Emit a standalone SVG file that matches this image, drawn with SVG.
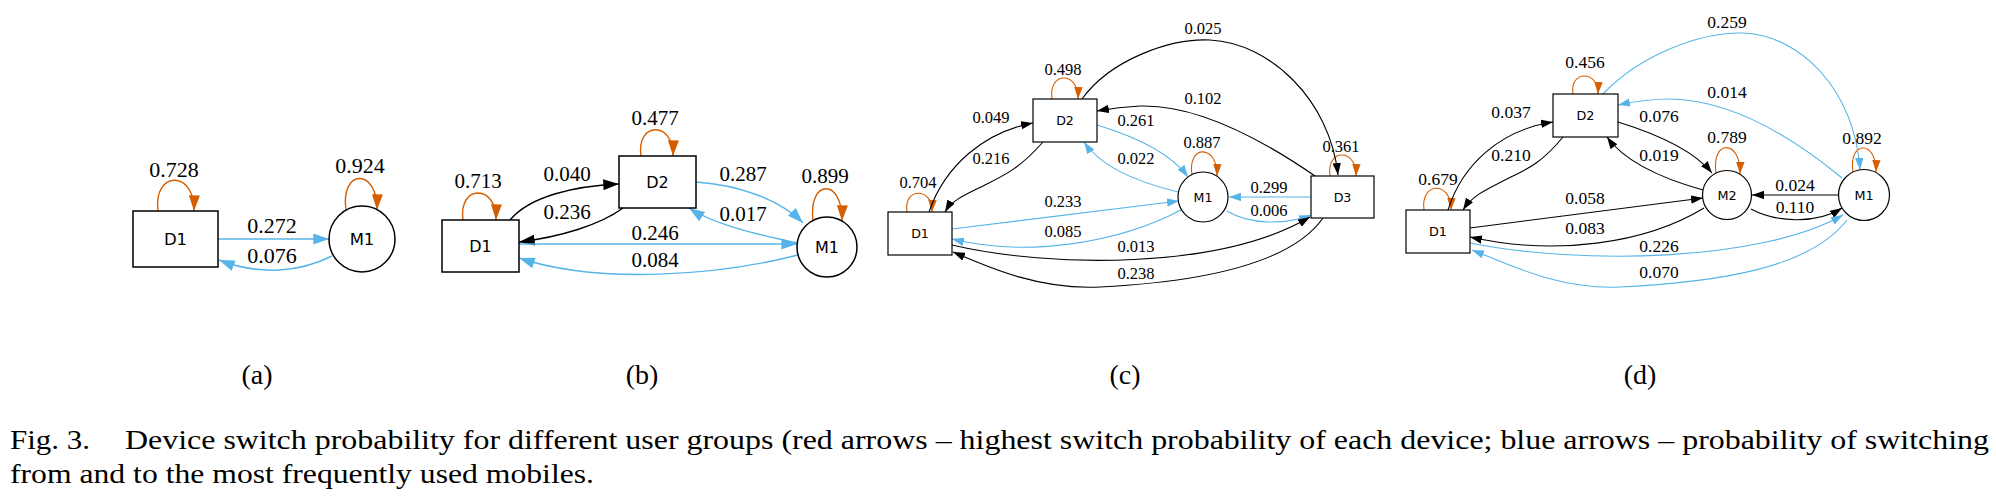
<svg xmlns="http://www.w3.org/2000/svg" width="1996" height="504" viewBox="0 0 1996 504">
<style>
.node{fill:#fff;stroke:#000;stroke-width:1.5}
.nodes{fill:#fff;stroke:#000;stroke-width:1.2}
.nl{font-family:"DejaVu Sans",sans-serif;text-anchor:middle;fill:#000}
.el{font-family:"Liberation Serif",serif;text-anchor:middle;fill:#000}
.e{fill:none;stroke-width:1.4}
.es{fill:none;stroke-width:1.1}
.k{stroke:#000}
.b{stroke:#56B4E9}
.o{stroke:#D55E00}
.cap{font-family:"Liberation Serif",serif;font-size:28px;fill:#000}
</style>
<defs>
<marker id="kL" viewBox="0 0 10 7" refX="10" refY="3.5" markerUnits="userSpaceOnUse" markerWidth="16" markerHeight="11" orient="auto"><path d="M0,0L10,3.5L0,7z" fill="#000"/></marker>
<marker id="bL" viewBox="0 0 10 7" refX="10" refY="3.5" markerUnits="userSpaceOnUse" markerWidth="16" markerHeight="11" orient="auto"><path d="M0,0L10,3.5L0,7z" fill="#56B4E9"/></marker>
<marker id="oL" viewBox="0 0 10 7" refX="10" refY="3.5" markerUnits="userSpaceOnUse" markerWidth="16" markerHeight="11" orient="auto"><path d="M0,0L10,3.5L0,7z" fill="#D55E00"/></marker>
<marker id="kS" viewBox="0 0 10 7" refX="10" refY="3.5" markerUnits="userSpaceOnUse" markerWidth="12" markerHeight="8.4" orient="auto"><path d="M0,0L10,3.5L0,7z" fill="#000"/></marker>
<marker id="bS" viewBox="0 0 10 7" refX="10" refY="3.5" markerUnits="userSpaceOnUse" markerWidth="12" markerHeight="8.4" orient="auto"><path d="M0,0L10,3.5L0,7z" fill="#56B4E9"/></marker>
<marker id="oS" viewBox="0 0 10 7" refX="10" refY="3.5" markerUnits="userSpaceOnUse" markerWidth="12" markerHeight="8.4" orient="auto"><path d="M0,0L10,3.5L0,7z" fill="#D55E00"/></marker>
</defs>
<rect width="1996" height="504" fill="#fff"/>

<!-- Panel (a) -->
<g id="a-edges">
<path class="e o" marker-end="url(#oL)" d="M158,211C153,170 195,170 194,211"/>
<path class="e o" marker-end="url(#oL)" d="M346,210C340,168 378,168 377,210"/>
<path class="e b" marker-end="url(#bL)" d="M218,239L329,239"/>
<path class="e b" marker-end="url(#bL)" d="M332,256C300,272 260,276 219,260"/>
<g class="el" font-size="22">
<text x="174" y="177">0.728</text><text x="360" y="173">0.924</text>
<text x="272" y="233">0.272</text><text x="272" y="263">0.076</text>
</g>
</g>
<g id="a-D1"><rect class="node" x="133" y="211" width="85" height="56"/><text class="nl" font-size="16.5" x="175.5" y="245">D1</text></g>
<g id="a-M1"><circle class="node" cx="362" cy="239" r="33"/><text class="nl" font-size="16.5" x="362" y="245">M1</text></g>

<!-- Panel (b) -->
<g id="b-edges">
<path class="e o" marker-end="url(#oL)" d="M463,220C458,184 497,184 496,220"/>
<path class="e o" marker-end="url(#oL)" d="M641,156C636,121 674,121 673,156"/>
<path class="e o" marker-end="url(#oL)" d="M813,221C808,178 843,178 842,221"/>
<path class="e k" marker-end="url(#kL)" d="M510,220C530,196 575,186 619,184"/>
<path class="e k" marker-end="url(#kL)" d="M623,208C600,225 560,237 519,242"/>
<path class="e b" marker-end="url(#bL)" d="M696,182C740,185 780,200 803,223"/>
<path class="e b" marker-end="url(#bL)" d="M797,243C760,235 715,225 689,208"/>
<path class="e b" marker-end="url(#bL)" d="M519,244L797,244"/>
<path class="e b" marker-end="url(#bL)" d="M798,255C720,275 600,285 519,258"/>
<g class="el" font-size="21">
<text x="478" y="188">0.713</text><text x="655" y="125">0.477</text><text x="825" y="183">0.899</text>
<text x="567" y="181">0.040</text><text x="567" y="219">0.236</text>
<text x="743" y="181">0.287</text><text x="743" y="221">0.017</text>
<text x="655" y="240">0.246</text><text x="655" y="267">0.084</text>
</g>
</g>
<g id="b-D1"><rect class="node" x="442" y="220" width="77" height="52"/><text class="nl" font-size="16" x="480.5" y="252">D1</text></g>
<g id="b-D2"><rect class="node" x="619" y="156" width="77" height="52"/><text class="nl" font-size="16" x="657.5" y="188">D2</text></g>
<g id="b-M1"><circle class="node" cx="827" cy="247" r="30"/><text class="nl" font-size="16" x="827" y="253">M1</text></g>

<!-- Panel (c) -->
<g id="c-edges">
<path class="es o" marker-end="url(#oS)" d="M907,212C903,187 933,187 932,212"/>
<path class="es o" marker-end="url(#oS)" d="M1052,99C1048,71 1079,71 1078,99"/>
<path class="es o" marker-end="url(#oS)" d="M1192,175C1187,144 1218,144 1217,176"/>
<path class="es o" marker-end="url(#oS)" d="M1330,176C1326,148 1357,148 1356,176"/>
<path class="es k" marker-end="url(#kS)" d="M1082,99C1110,60 1170,38 1210,40C1270,43 1330,100 1338,175"/>
<path class="es k" marker-end="url(#kS)" d="M1315,176C1270,145 1200,104 1140,106C1120,107 1108,109 1097,111"/>
<path class="es k" marker-end="url(#kS)" d="M929,212C945,165 985,132 1033,123"/>
<path class="es k" marker-end="url(#kS)" d="M1043,142C1020,168 1005,175 985,185C965,195 952,200 945,212"/>
<path class="es b" marker-end="url(#bS)" d="M1097,125C1140,138 1172,155 1188,177"/>
<path class="es b" marker-end="url(#bS)" d="M1178,192C1130,180 1100,165 1084,142"/>
<path class="es b" marker-end="url(#bS)" d="M952,229L1179,201"/>
<path class="es b" marker-end="url(#bS)" d="M1181,210C1120,242 1030,258 952,239"/>
<path class="es b" marker-end="url(#bS)" d="M1311,197L1229,197"/>
<path class="es b" marker-end="url(#bS)" d="M1227,211C1250,225 1285,225 1311,215"/>
<path class="es k" marker-end="url(#kS)" d="M952,245C1050,268 1220,270 1310,217"/>
<path class="es k" marker-end="url(#kS)" d="M1323,218C1290,265 1200,282 1100,287C1040,290 990,268 953,252"/>
<g class="el" font-size="16.5">
<text x="1203" y="34">0.025</text><text x="1063" y="75">0.498</text><text x="1203" y="104">0.102</text>
<text x="991" y="123">0.049</text><text x="1136" y="126">0.261</text><text x="1202" y="148">0.887</text>
<text x="1341" y="152">0.361</text><text x="991" y="164">0.216</text><text x="1136" y="164">0.022</text>
<text x="918" y="188">0.704</text><text x="1269" y="193">0.299</text><text x="1063" y="207">0.233</text>
<text x="1269" y="216">0.006</text><text x="1063" y="237">0.085</text><text x="1136" y="252">0.013</text>
<text x="1136" y="279">0.238</text>
</g>
</g>
<g id="c-D1"><rect class="nodes" x="888" y="212" width="64" height="43"/><text class="nl" font-size="12.6" x="920" y="238">D1</text></g>
<g id="c-D2"><rect class="nodes" x="1033" y="99" width="64" height="43"/><text class="nl" font-size="12.6" x="1065" y="125">D2</text></g>
<g id="c-M1"><circle class="nodes" cx="1203" cy="197" r="25"/><text class="nl" font-size="12.6" x="1203" y="201.5">M1</text></g>
<g id="c-D3"><rect class="nodes" x="1311" y="176" width="63" height="42"/><text class="nl" font-size="12.6" x="1342.5" y="201.5">D3</text></g>

<!-- Panel (d) -->
<g id="d-edges">
<path class="es o" marker-end="url(#oS)" d="M1424,210C1420,181 1452,181 1451,210"/>
<path class="es o" marker-end="url(#oS)" d="M1573,94C1569,70 1599,70 1598,94"/>
<path class="es o" marker-end="url(#oS)" d="M1716,173C1711,139 1741,139 1740,174"/>
<path class="es o" marker-end="url(#oS)" d="M1853,172C1848,140 1877,140 1876,172"/>
<path class="es b" marker-end="url(#bS)" d="M1603,94C1640,55 1700,32 1743,33C1800,35 1855,90 1860,170"/>
<path class="es b" marker-end="url(#bS)" d="M1842,178C1790,135 1730,100 1670,99C1650,99 1632,102 1618,105"/>
<path class="es k" marker-end="url(#kS)" d="M1448,210C1462,165 1500,130 1553,122"/>
<path class="es k" marker-end="url(#kS)" d="M1563,137C1540,165 1525,170 1505,180C1485,190 1472,196 1463,210"/>
<path class="es k" marker-end="url(#kS)" d="M1618,122C1660,135 1695,152 1712,173"/>
<path class="es k" marker-end="url(#kS)" d="M1703,190C1660,178 1625,162 1607,137"/>
<path class="es k" marker-end="url(#kS)" d="M1470,228L1703,198"/>
<path class="es k" marker-end="url(#kS)" d="M1704,208C1645,244 1555,256 1470,237"/>
<path class="es k" marker-end="url(#kS)" d="M1838,195L1752,195"/>
<path class="es k" marker-end="url(#kS)" d="M1751,209C1775,222 1815,225 1842,208"/>
<path class="es b" marker-end="url(#bS)" d="M1470,243C1580,265 1760,262 1843,215"/>
<path class="es b" marker-end="url(#bS)" d="M1847,220C1810,268 1720,282 1620,287C1560,290 1510,265 1472,250"/>
<g class="el" font-size="17.5">
<text x="1727" y="28">0.259</text><text x="1585" y="68">0.456</text><text x="1727" y="98">0.014</text>
<text x="1511" y="118">0.037</text><text x="1659" y="122">0.076</text><text x="1727" y="143">0.789</text>
<text x="1862" y="144">0.892</text><text x="1511" y="161">0.210</text><text x="1659" y="161">0.019</text>
<text x="1438" y="185">0.679</text><text x="1795" y="191">0.024</text><text x="1585" y="204">0.058</text>
<text x="1795" y="213">0.110</text><text x="1585" y="234">0.083</text><text x="1659" y="252">0.226</text>
<text x="1659" y="278">0.070</text>
</g>
</g>
<g id="d-D1"><rect class="nodes" x="1406" y="210" width="64" height="43"/><text class="nl" font-size="12.8" x="1438" y="236">D1</text></g>
<g id="d-D2"><rect class="nodes" x="1553" y="94" width="65" height="43"/><text class="nl" font-size="12.8" x="1585.5" y="120">D2</text></g>
<g id="d-M2"><circle class="nodes" cx="1727" cy="195" r="24.5"/><text class="nl" font-size="12.8" x="1727" y="199.5">M2</text></g>
<g id="d-M1"><circle class="nodes" cx="1864" cy="195" r="25.5"/><text class="nl" font-size="12.8" x="1864" y="199.5">M1</text></g>

<!-- Captions -->
<g id="captions" class="cap">
<text x="257" y="384" text-anchor="middle">(a)</text>
<text x="642" y="384" text-anchor="middle">(b)</text>
<text x="1125" y="384" text-anchor="middle">(c)</text>
<text x="1640" y="384" text-anchor="middle">(d)</text>
<text x="10" y="449" textLength="80" lengthAdjust="spacingAndGlyphs">Fig. 3.</text>
<text x="125" y="449" textLength="1864" lengthAdjust="spacingAndGlyphs">Device switch probability for different user groups (red arrows – highest switch probability of each device; blue arrows – probability of switching</text>
<text x="10" y="483" textLength="584" lengthAdjust="spacingAndGlyphs">from and to the most frequently used mobiles.</text>
</g>
</svg>
